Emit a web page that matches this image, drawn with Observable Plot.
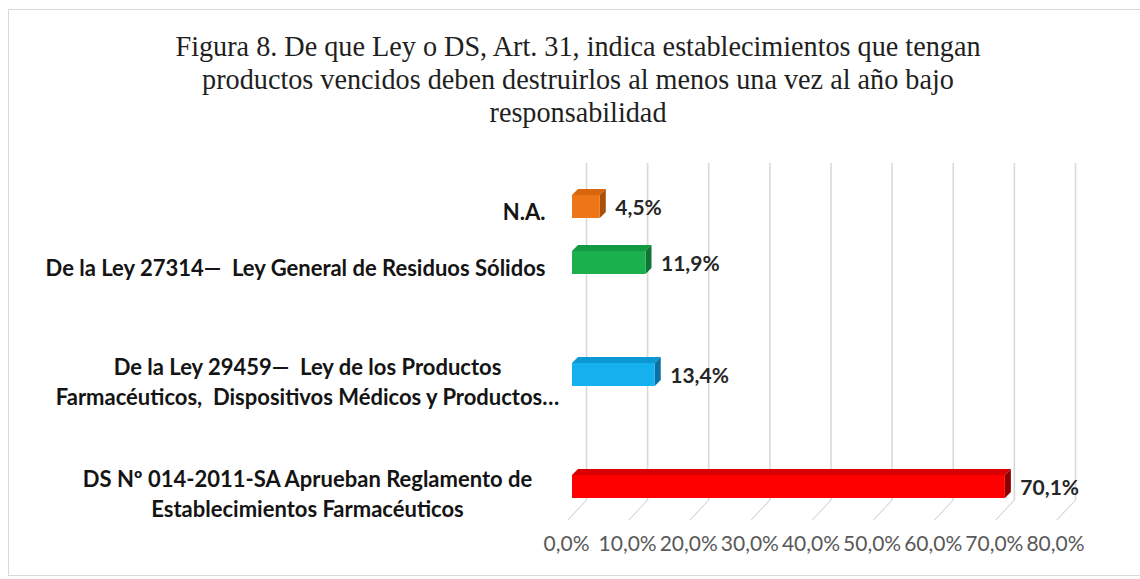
<!DOCTYPE html>
<html>
<head>
<meta charset="utf-8">
<script src="https://cdn.jsdelivr.net/npm/d3@7"></script>
<script src="https://cdn.jsdelivr.net/npm/@observablehq/plot@0.6"></script>
<style>
  html, body { margin: 0; padding: 0; background: #fff; overflow: hidden; }
  #page { position: relative; width: 1140px; height: 579px; background: #fff; }
  #frame { position: absolute; left: 8px; top: 9px; width: 1160px; height: 567px; border: 1px solid #D9D9D9; box-sizing: border-box; }
  #title { position: absolute; left: 578px; top: 29px; width: 1000px; margin-left: -500px; text-align: center;
           font-family: "Liberation Serif", "Times New Roman", serif; font-size: 30px; line-height: 33px; color: #1f1f1f;
           transform: scaleX(0.94); transform-origin: 50% 0; }
  #chart { position: absolute; left: 0; top: 140px; width: 1140px; height: 439px; }
  #chart svg { position: absolute; left: 0; top: 0; background: transparent; }
  .floor line { transform-box: fill-box; transform-origin: 50% 0; transform: skewX(-43deg); }
  .topface rect { transform-box: fill-box; transform-origin: 0 100%; transform: skewX(-45deg); }
  .sideface rect { transform-box: fill-box; transform-origin: 0 0; transform: skewY(-45deg); }
</style>
</head>
<body>
<div id="page">
  <div id="frame"></div>
  <div id="title">Figura 8. De que Ley o DS, Art. 31, indica establecimientos que tengan<br>productos vencidos deben destruirlos al menos una vez al año bajo<br>responsabilidad</div>
  <div id="chart"></div>
</div>
<script>
// ---- data ----
const categories = [
  "N.A.",
  "De la Ley 27314—  Ley General de Residuos Sólidos",
  "De la Ley 29459—  Ley de los Productos\nFarmacéuticos,  Dispositivos Médicos y Productos…",
  "DS Nº 014-2011-SA Aprueban Reglamento de\nEstablecimientos Farmacéuticos"
];
const values = [4.5, 11.9, 13.4, 70.1];
const valueLabels = ["4,5%", "11,9%", "13,4%", "70,1%"];
const frontColors = ["#EF7617", "#1BB04E", "#14B1EE", "#FF0000"];
const topColors   = ["#D8660E", "#129A42", "#0C98D2", "#D80000"];
const sideColors  = ["#A9500A", "#0D7533", "#0A72A2", "#8C0000"];
const xTicks = [0, 10, 20, 30, 40, 50, 60, 70, 80];
const xTickLabels = ["0,0%", "10,0%", "20,0%", "30,0%", "40,0%", "50,0%", "60,0%", "70,0%", "80,0%"];
// empty category slots in the original chart layout
const yDomain = [categories[0], categories[1], " ", categories[2], "  ", categories[3]];

const rows = categories.map((c, i) => ({
  category: c, value: values[i], label: valueLabels[i],
  front: frontColors[i], top: topColors[i], side: sideColors[i],
  multi: c.includes("\n")
}));

const W = 1140, H = 439;
const font = "Lato, 'Open Sans', sans-serif";

// ---- back wall grid + floor + axis labels ----
const grid = Plot.plot({
  width: W, height: H,
  marginLeft: 586, marginRight: 65, marginTop: 23, marginBottom: 79,
  style: {fontFamily: font, background: "transparent", overflow: "visible"},
  x: {domain: [0, 80], axis: null},
  y: {axis: null},
  marks: [
    Plot.ruleX(xTicks, {x: d => d, stroke: "#D9D9D9", strokeWidth: 1.6}),
    Plot.ruleX(xTicks, {x: d => d, stroke: "#C9D0DA", strokeWidth: 1.2, insetTop: 337, insetBottom: -20, className: "floor"}),
    Plot.text(xTicks, {x: d => d, text: (d, i) => xTickLabels[i], frameAnchor: "bottom", dy: 50, dx: -20,
      fill: "#595959", fontSize: 21})
  ]
});

// ---- bars ----
const bars = Plot.plot({
  width: W, height: H,
  marginLeft: 572, marginRight: 74, marginTop: 19, marginBottom: 46,
  style: {fontFamily: font, background: "transparent", overflow: "visible"},
  x: {domain: [0, 80], axis: null},
  y: {domain: yDomain, padding: 0.594, axis: null},
  marks: [
    Plot.barX(rows, {x1: 0, x2: "value", y: "category", fill: d => d.top, dy: -6, insetBottom: 17, className: "topface"}),
    Plot.barX(rows, {x1: "value", x2: "value", y: "category", fill: d => d.side, insetRight: -6, className: "sideface"}),
    Plot.barX(rows, {x1: 0, x2: "value", y: "category", fill: d => d.front}),
    Plot.text(rows, {x: "value", y: "category", text: "label", textAnchor: "start", dx: 15, dy: 1,
      fontSize: 21, fontWeight: "bold", fill: "#262626"}),
    Plot.text(rows.filter(d => !d.multi), {x: () => 0, y: "category", text: "category", textAnchor: "end",
      dx: -27, dy: 6, fontSize: 22, fontWeight: "bold", fill: "#141414"}),
    Plot.text(rows.filter(d => d.multi), {x: () => 0, y: "category", text: "category", textAnchor: "middle",
      dx: -265, dy: 5, lineHeight: 1.36, fontSize: 22, fontWeight: "bold", fill: "#141414"})
  ]
});

const chart = document.getElementById("chart");
chart.appendChild(grid);
chart.appendChild(bars);
</script>
</body>
</html>
